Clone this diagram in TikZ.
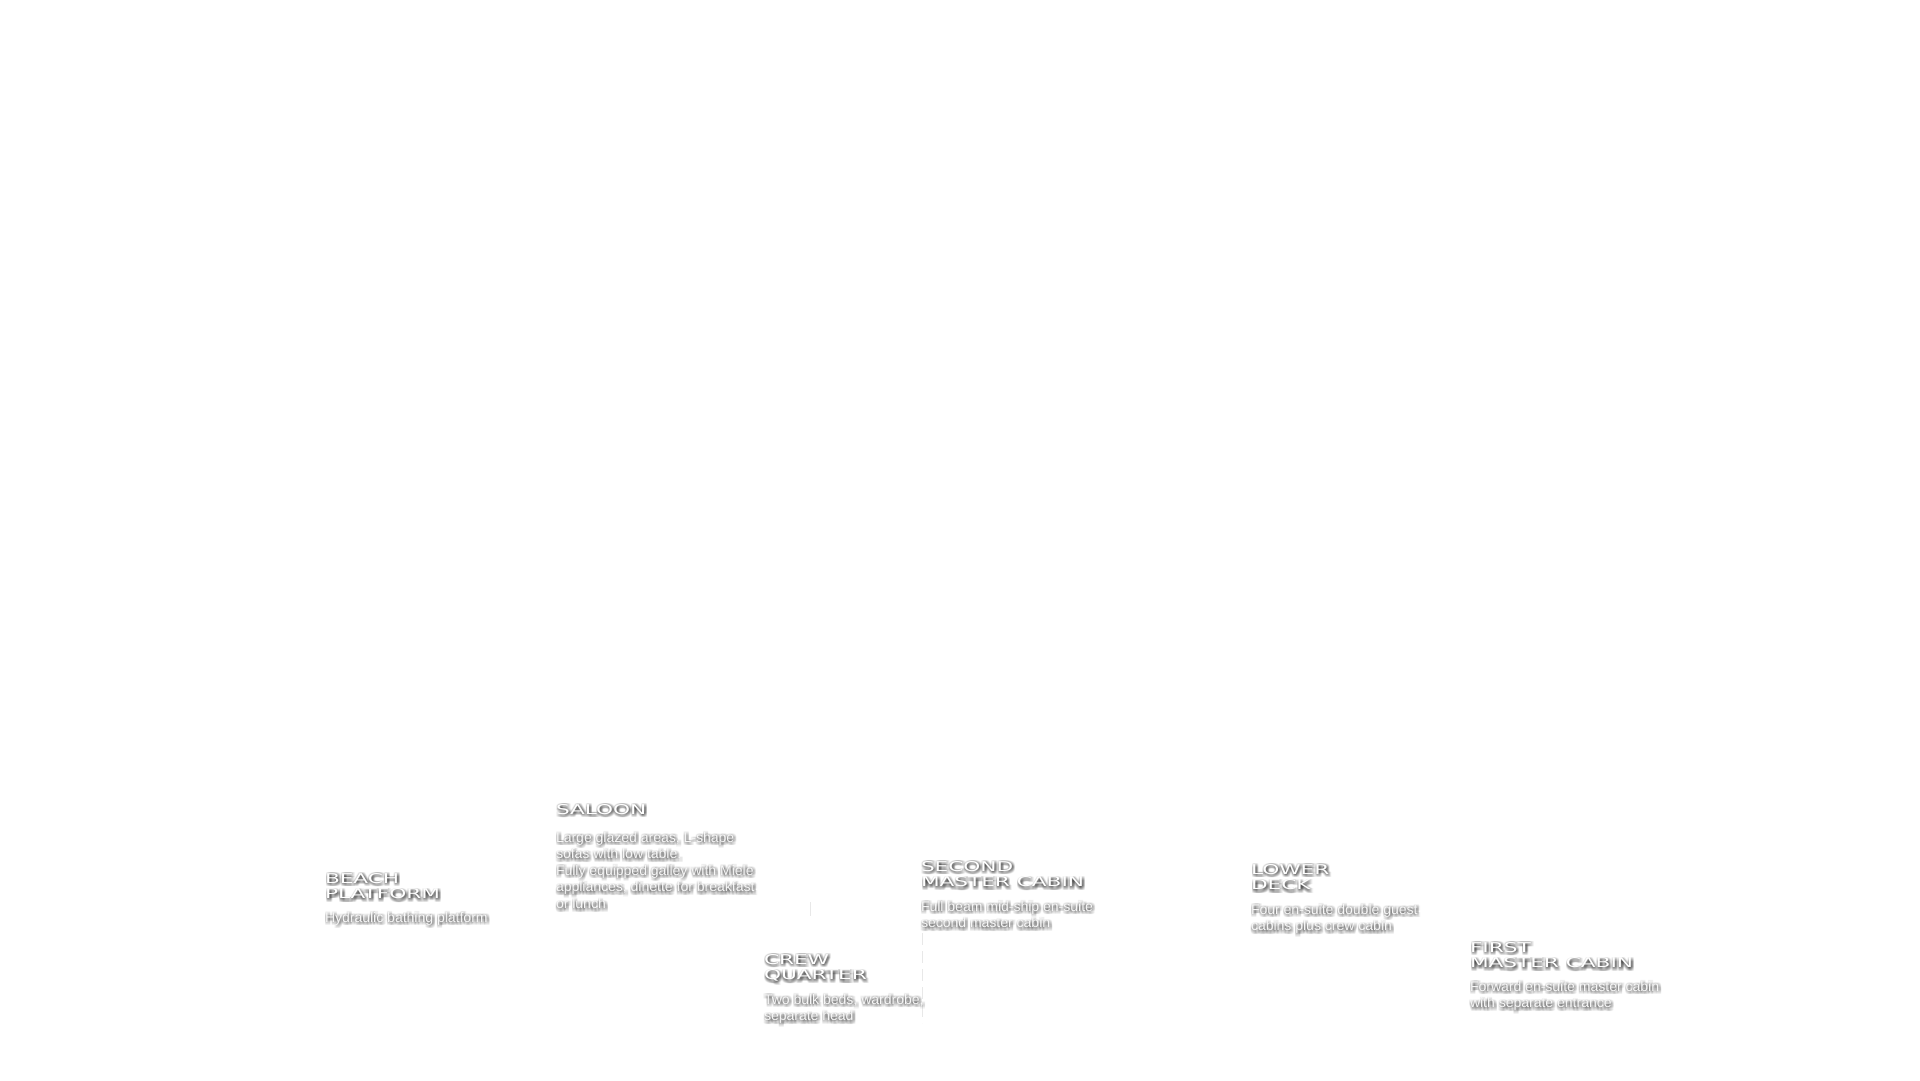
\documentclass[tikz,border=0pt]{standalone}
\usepackage{fontspec}
\newfontfamily\headfont[FakeStretch=1.6]{DejaVu Sans}
\newfontfamily\descfont{Liberation Sans}
\tikzset{
  x=1pt, y=-1pt,
  head/.style={anchor=north west, inner sep=0pt, outer sep=0pt, align=left,
    font={\headfont\fontsize{13.5}{15.5}\selectfont}, text=white},
  desc/.style={anchor=north west, inner sep=0pt, outer sep=0pt, align=left,
    font={\descfont\fontsize{14}{16.6}\selectfont}, text=black!3},
  headsh/.style={head, text=black, text opacity=0.058},
  descsh/.style={desc, text=black, text opacity=0.048},
  faint/.style={draw=black!9, line width=0.8pt}
}
% #1 name, #2 x, #3 heading top, #4 heading, #5 desc top, #6 description
% the soft drop shadow is built from faint offset copies of each text
\newcommand\yachtlabel[6]{%
  \foreach \dx in {-1,0,1,2,3} {
    \foreach \dy in {-0.5,0.5,1.5,2.5,3.5} {
      \node[headsh, xshift=\dx pt, yshift=-\dy pt] (#1-hs\dx-\dy) at (#2,#3) {#4};
      \node[descsh, xshift=\dx pt, yshift=-\dy pt] (#1-ds\dx-\dy) at (#2,#5) {#6};
    }
  }
  \node[head] (#1-h) at (#2,#3) {#4};
  \node[desc] (#1-d) at (#2,#5) {#6};
}
\begin{document}
\begin{tikzpicture}
\fill[white] (0,0) rectangle (1920,1080);
\useasboundingbox (0,0) rectangle (1920,1080);

% faint leader fragments
\coordinate (f1a) at (810,902);
\coordinate (f1b) at (810,916);
\coordinate (f2a) at (922,933);
\coordinate (f2b) at (922,1023);
\draw[faint] (f1a) -- (f1b);
\draw[faint, dash pattern=on 12pt off 6pt] (f2a) -- (f2b);

\yachtlabel{beach}{325}{873}{BEACH\\PLATFORM}{912}{Hydraulic bathing platform}
\yachtlabel{saloon}{556}{804}{SALOON}{832}{Large glazed areas, L-shape\\sofas with low table.\\Fully equipped galley with Miele\\appliances, dinette for breakfast\\or lunch}
\yachtlabel{crew}{764}{954}{CREW\\QUARTER}{994}{Two bulk beds, wardrobe,\\separate head}
\yachtlabel{second}{921}{861}{SECOND\\MASTER CABIN}{901}{Full beam mid-ship en-suite\\second master cabin}
\yachtlabel{lower}{1251}{864}{LOWER\\DECK}{904}{Four en-suite double guest\\cabins plus crew cabin}
\yachtlabel{first}{1470}{942}{FIRST\\MASTER CABIN}{981}{Forward en-suite master cabin\\with separate entrance}
\end{tikzpicture}
\end{document}
